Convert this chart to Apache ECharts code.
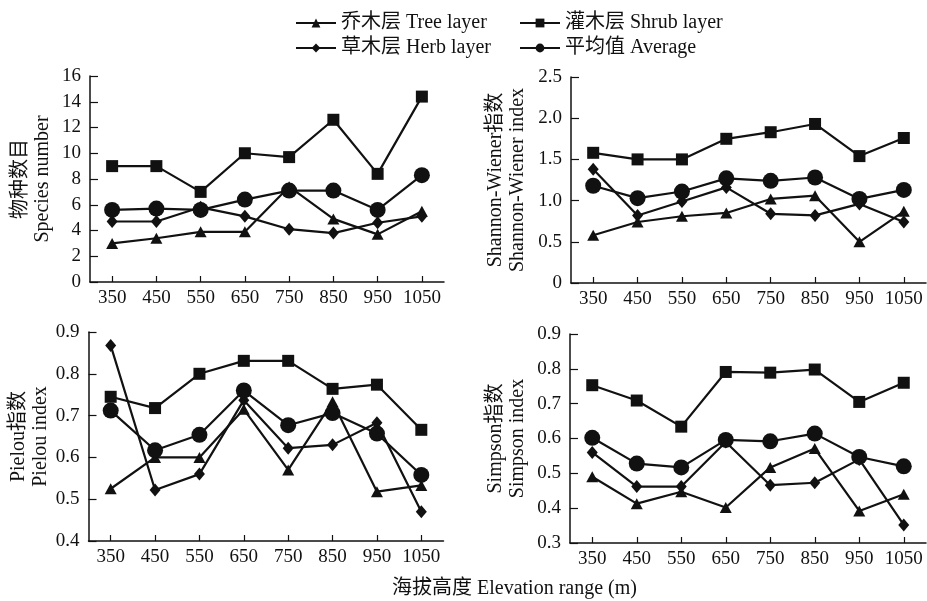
<!DOCTYPE html>
<html><head><meta charset="utf-8">
<script src="https://cdn.jsdelivr.net/npm/echarts@6/dist/echarts.min.js"></script>
<style>html,body{margin:0;padding:0;background:#fff}#c{width:927px;height:601px}</style>
</head><body><div id="c"></div>
<script>
const categories = ['350','450','550','650','750','850','950','1050'];
const seriesNames = ['乔木层 Tree layer','灌木层 Shrub layer','草木层 Herb layer','平均值 Average'];

const speciesTree  = [3.0, 3.4, 3.9, 3.9, 7.4, 4.9, 3.7, 5.5];
const speciesShrub = [9.0, 9.0, 7.0, 10.0, 9.7, 12.6, 8.4, 14.4];
const speciesHerb  = [4.7, 4.7, 5.8, 5.1, 4.1, 3.8, 4.6, 5.1];
const speciesAvg   = [5.6, 5.7, 5.6, 6.4, 7.1, 7.1, 5.6, 8.3];

const shannonTree  = [0.58, 0.74, 0.81, 0.85, 1.02, 1.06, 0.50, 0.87];
const shannonShrub = [1.58, 1.50, 1.50, 1.75, 1.83, 1.93, 1.54, 1.76];
const shannonHerb  = [1.38, 0.82, 0.99, 1.16, 0.84, 0.82, 0.96, 0.74];
const shannonAvg   = [1.18, 1.03, 1.11, 1.27, 1.24, 1.28, 1.02, 1.13];

const pielouTree  = [0.525, 0.600, 0.600, 0.715, 0.570, 0.733, 0.518, 0.533];
const pielouShrub = [0.745, 0.718, 0.800, 0.831, 0.831, 0.764, 0.774, 0.666];
const pielouHerb  = [0.868, 0.522, 0.560, 0.737, 0.622, 0.630, 0.683, 0.470];
const pielouAvg   = [0.712, 0.617, 0.654, 0.760, 0.677, 0.706, 0.657, 0.558];

const simpsonTree  = [0.490, 0.413, 0.447, 0.402, 0.517, 0.571, 0.392, 0.440];
const simpsonShrub = [0.753, 0.709, 0.634, 0.791, 0.789, 0.798, 0.705, 0.760];
const simpsonHerb  = [0.560, 0.462, 0.462, 0.590, 0.466, 0.473, 0.540, 0.352];
const simpsonAvg   = [0.602, 0.528, 0.517, 0.596, 0.592, 0.614, 0.547, 0.520];

const yNames = ['物种数目\nSpecies number','Shannon-Wiener指数\nShannon-Wiener index','Pielou指数\nPielou index','Simpson指数\nSimpson index'];
const xTitle = '海拔高度 Elevation range (m)';

const FONT = "'Liberation Serif','Noto Sans CJK SC',serif";
const INK = '#111';
const panels = [
  [speciesTree, speciesShrub, speciesHerb, speciesAvg],
  [shannonTree, shannonShrub, shannonHerb, shannonAvg],
  [pielouTree, pielouShrub, pielouHerb, pielouAvg],
  [simpsonTree, simpsonShrub, simpsonHerb, simpsonAvg]
];
const grids = [
  {left: 90, top: 76, width: 354, height: 206},
  {left: 571, top: 77, width: 355, height: 206},
  {left: 88.5, top: 332, width: 355, height: 209},
  {left: 570, top: 334, width: 356, height: 209}
];
const yRanges = [
  {min: 0, max: 16, interval: 2, fmt: v => String(v), gap: 36},
  {min: 0, max: 2.5, interval: 0.5, fmt: v => v === 0 ? '0' : v.toFixed(1), gap: 42},
  {min: 0.4, max: 0.9, interval: 0.1, fmt: v => v.toFixed(1), gap: 35},
  {min: 0.3, max: 0.9, interval: 0.1, fmt: v => v.toFixed(1), gap: 41}
];
const symbols = [
  {symbol: 'triangle', size: [12, 11]},
  {symbol: 'rect', size: 12},
  {symbol: 'diamond', size: [11, 13]},
  {symbol: 'circle', size: 16}
];
const axisLine = {show: true, lineStyle: {color: INK, width: 1.5}};

const xAxis = grids.map((g, i) => ({
  type: 'category', gridIndex: i, data: categories, boundaryGap: true,
  axisLine: axisLine,
  axisTick: {show: true, inside: true, alignWithLabel: true, length: 6, lineStyle: {color: INK, width: 1.2}},
  axisLabel: {color: INK, fontFamily: FONT, fontSize: 19, margin: 7, interval: 0},
  splitLine: {show: false}
}));
const yAxis = grids.map((g, i) => ({
  type: 'value', gridIndex: i, min: yRanges[i].min, max: yRanges[i].max, interval: yRanges[i].interval,
  axisLine: axisLine,
  axisTick: {show: true, inside: true, length: 8, lineStyle: {color: INK, width: 1.2}},
  axisLabel: {color: INK, fontFamily: FONT, fontSize: 19, margin: 9, formatter: yRanges[i].fmt},
  splitLine: {show: false},
  name: yNames[i], nameLocation: 'middle', nameRotate: 90, nameGap: yRanges[i].gap,
  nameTextStyle: {color: INK, fontFamily: FONT, fontSize: 20, lineHeight: 22}
}));
const series = [];
panels.forEach((arrs, i) => {
  arrs.forEach((d, k) => {
    series.push({
      type: 'line', name: seriesNames[k], xAxisIndex: i, yAxisIndex: i, data: d,
      symbol: symbols[k].symbol, symbolSize: symbols[k].size, showAllSymbol: true,
      lineStyle: {color: INK, width: 2.2}, itemStyle: {color: INK},
      emphasis: {disabled: true}, animation: false
    });
  });
});
const legPos = [[290, 8], [514, 8], [290, 33], [514, 33]];
const legend = seriesNames.map((n, k) => ({
  data: [n], left: legPos[k][0], top: legPos[k][1], itemWidth: 40, itemHeight: 11, itemGap: 6,
  textStyle: {color: INK, fontFamily: FONT, fontSize: 20}, selectedMode: false
}));

const chart = echarts.init(document.getElementById('c'), null, {renderer: 'canvas'});
chart.setOption({
  backgroundColor: '#fff',
  animation: false,
  title: {text: xTitle, left: 387, top: 574, textStyle: {color: INK, fontFamily: FONT, fontSize: 20, fontWeight: 'normal'}},
  legend: legend,
  grid: grids,
  xAxis: xAxis,
  yAxis: yAxis,
  series: series
});
</script></body></html>
